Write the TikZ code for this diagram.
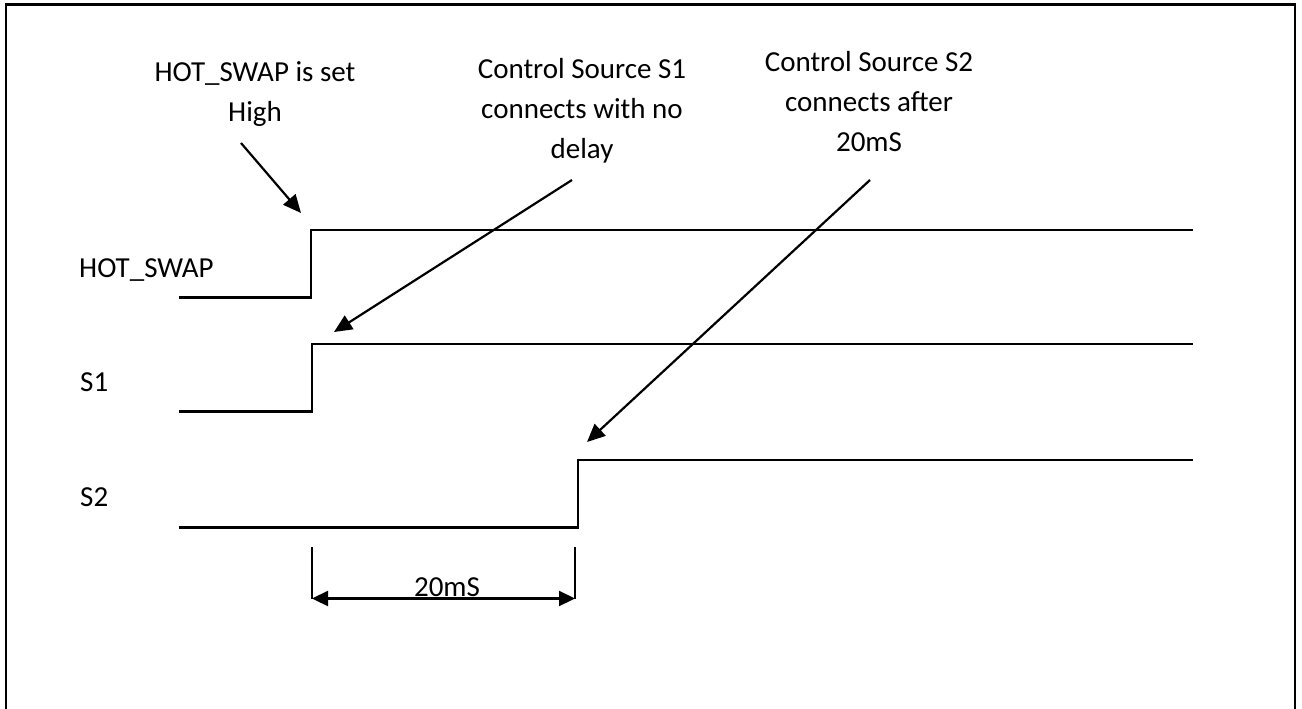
\documentclass[tikz,border=0pt]{standalone}
\usepackage{fontspec}
\setmainfont{Carlito}
\usetikzlibrary{arrows.meta}
\begin{document}
\begin{tikzpicture}[x=1pt,y=-1pt,
  wave/.style={line width=2.2pt, line join=miter},
  callout/.style={line width=2.2pt, -{Triangle[length=18pt,width=16pt]}},
  dimline/.style={line width=2.2pt, {Triangle[length=16pt,width=15pt]}-{Triangle[length=16pt,width=15pt]}},
  tick/.style={line width=1.6pt},
  lbl/.style={anchor=base west, inner sep=0pt},
  note/.style={anchor=base, inner sep=0pt},
  font=\fontsize{29}{40}\selectfont]
\useasboundingbox (0,0) rectangle (1302,709);

% outer frame (open at the bottom)
\draw[line width=2.2pt] (6,709) -- (6,4.5) -- (1295,4.5) -- (1295,709);

% signal names
\node[lbl] (lhs) at (79,277.5) {HOT\_SWAP};
\node[lbl] (ls1) at (80,391.5) {S1};
\node[lbl] (ls2) at (80,506.5) {S2};

% HOT_SWAP waveform
\coordinate (h0) at (179,297.5);
\coordinate (h1) at (311,297.5);
\coordinate (h2) at (311,230);
\coordinate (h3) at (1193,230);
\draw[wave] (h0) -- (h1) -- (h2) -- (h3);

% S1 waveform
\coordinate (a0) at (179,411.5);
\coordinate (a1) at (312,411.5);
\coordinate (a2) at (312,344);
\coordinate (a3) at (1193,344);
\draw[wave] (a0) -- (a1) -- (a2) -- (a3);

% S2 waveform
\coordinate (b0) at (179,527.5);
\coordinate (b1) at (578,527.5);
\coordinate (b2) at (578,460);
\coordinate (b3) at (1193,460);
\draw[wave] (b0) -- (b1) -- (b2) -- (b3);

% 20mS dimension
\coordinate (t1a) at (312,547);
\coordinate (t1b) at (312,598.5);
\coordinate (t2a) at (575,547);
\coordinate (t2b) at (575,598.5);
\draw[tick] (t1a) -- (t1b);
\draw[tick] (t2a) -- (t2b);
\draw[dimline] (t1b) -- (t2b);
\node[note] (dim) at (447,596.5) {20mS};

% annotations
\node[note] (n1) at (255,81.7) {\begin{tabular}[t]{@{}c@{}}HOT\_SWAP is set\\High\end{tabular}};
\node[note] (n2) at (582,78.3) {\begin{tabular}[t]{@{}c@{}}Control Source S1\\connects with no\\delay\end{tabular}};
\node[note] (n3) at (869,71.7) {\begin{tabular}[t]{@{}c@{}}Control Source S2\\connects after\\20mS\end{tabular}};

% callout arrows
\coordinate (c1s) at (241,143);
\coordinate (c1e) at (301,213);
\coordinate (c2s) at (572,180);
\coordinate (c2e) at (334,332);
\coordinate (c3s) at (870,180);
\coordinate (c3e) at (587,442);
\draw[callout] (c1s) -- (c1e);
\draw[callout] (c2s) -- (c2e);
\draw[callout] (c3s) -- (c3e);
\end{tikzpicture}
\end{document}
